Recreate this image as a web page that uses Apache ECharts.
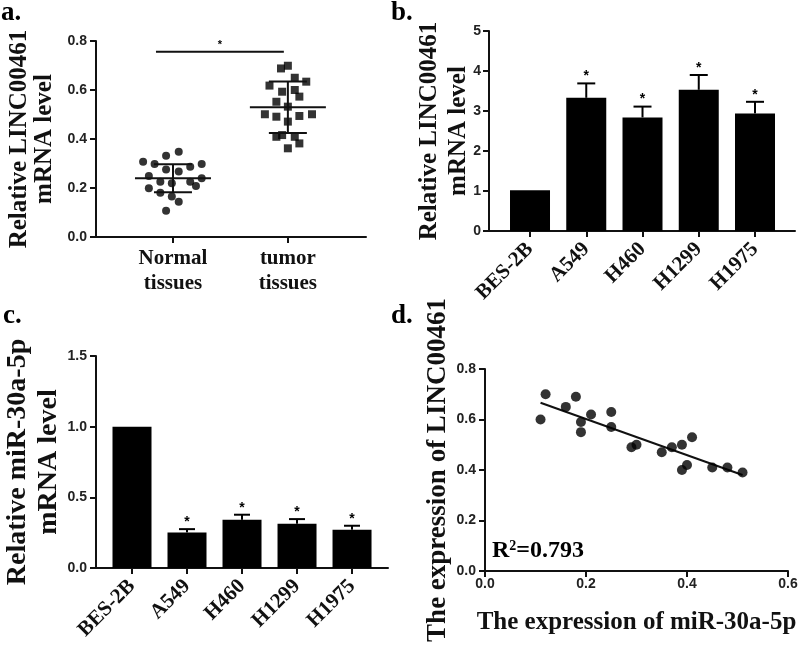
<!DOCTYPE html>
<html><head><meta charset="utf-8">
<script src="https://cdn.jsdelivr.net/npm/echarts@6/dist/echarts.min.js"></script>
<style>html,body{margin:0;padding:0;background:#fff}#c{width:800px;height:653px}</style>
</head><body><div id="c"></div>
<script>
// ---------- Panel a: scatter (x = group position 1 / 2 with jitter, y = level)
const aGroups = ['Normal\ntissues', 'tumor\ntissues'];
const aNormal = [
  [0.74,0.307],[0.84,0.298],[0.94,0.332],[1.05,0.348],[1.15,0.287],[1.25,0.298],
  [0.94,0.276],[1.05,0.267],[0.79,0.249],[0.89,0.226],[0.99,0.219],[1.15,0.226],
  [1.25,0.240],[1.20,0.208],[0.79,0.199],[0.89,0.181],[0.99,0.165],[1.05,0.144],[0.94,0.107]
];
const aTumor = [
  [1.94,0.688],[2.00,0.699],[2.06,0.650],[2.16,0.634],[1.84,0.618],[1.95,0.593],
  [2.06,0.600],[2.10,0.573],[1.90,0.552],[2.00,0.532],[1.80,0.501],[1.90,0.491],
  [2.10,0.494],[2.21,0.501],[2.00,0.471],[1.95,0.416],[1.90,0.409],[2.06,0.409],
  [2.10,0.382],[2.00,0.362]
];
const aMean = [0.240, 0.530];
const aSD = [0.057, 0.105];
const aSigY = 0.756;

// ---------- Panel b / c: bars
const cellLines = ['BES-2B', 'A549', 'H460', 'H1299', 'H1975'];
const bMean = [1.02, 3.33, 2.84, 3.53, 2.94];
const bErr  = [0, 0.36, 0.27, 0.37, 0.29];
const cMean = [1.00, 0.252, 0.341, 0.313, 0.271];
const cErr  = [0, 0.023, 0.036, 0.033, 0.028];
const sig   = [false, true, true, true, true];

// ---------- Panel d: correlation
const dX = [0.11,0.12,0.16,0.18,0.19,0.19,0.21,0.25,0.25,0.29,0.30,0.35,0.37,0.39,0.41,0.39,0.40,0.45,0.48,0.51];
const dY = [0.60,0.70,0.65,0.69,0.59,0.55,0.62,0.63,0.57,0.49,0.50,0.47,0.49,0.50,0.53,0.40,0.42,0.41,0.41,0.39];
const dR2 = '0.793';

// ---------- helpers
const serif = "'Liberation Serif','Times New Roman',serif";
const sans = "'Liberation Sans',Arial,sans-serif";
const INK = '#111';

function yAxis(gi, min, max, interval, dec, name, nameGap, fs, lh, lblMargin) {
  return {
    type: 'value', gridIndex: gi, min, max, interval,
    axisLine: { show: true, onZero: false, lineStyle: { color: INK, width: 2 } },
    axisTick: { show: true, length: 6, lineStyle: { color: INK, width: 2 } },
    splitLine: { show: false },
    axisLabel: { color: '#222', fontFamily: sans, fontWeight: 'bold', fontSize: 14, margin: lblMargin || 9,
      formatter: v => v.toFixed(dec) },
    name, nameLocation: 'middle', nameRotate: 90, nameGap, nameMoveOverlap: false,
    nameTextStyle: { fontFamily: serif, fontWeight: 'bold', fontSize: fs, lineHeight: lh, color: INK }
  };
}
function catXAxis(gi, min, max) {
  const idx = cellLines.map((_, i) => i);
  return {
    type: 'value', gridIndex: gi, min, max,
    axisLine: { show: true, onZero: false, lineStyle: { color: INK, width: 2 } },
    axisTick: { show: true, customValues: idx, length: 6, lineStyle: { color: INK, width: 2 } },
    splitLine: { show: false },
    axisLabel: { customValues: idx, formatter: v => cellLines[Math.round(v)] || '', rotate: 45,
      fontFamily: serif, fontWeight: 'bold', fontSize: 21, color: INK, margin: 15 }
  };
}
function errSeries(ai, means, errs, capHalf, starGap) {
  return {
    type: 'custom', xAxisIndex: ai, yAxisIndex: ai, z: 5, silent: true,
    data: means.map((m, i) => [i, m, errs[i], sig[i] ? 1 : 0]),
    renderItem: (params, api) => {
      const i = api.value(0), m = api.value(1), e = api.value(2);
      const p0 = api.coord([i, m]), p1 = api.coord([i, m + e]);
      const ch = [];
      if (e > 0) {
        ch.push({ type: 'line', shape: { x1: p0[0], y1: p0[1], x2: p1[0], y2: p1[1] }, style: { stroke: '#000', lineWidth: 2 } });
        ch.push({ type: 'line', shape: { x1: p1[0] - capHalf, y1: p1[1], x2: p1[0] + capHalf, y2: p1[1] }, style: { stroke: '#000', lineWidth: 2 } });
      }
      if (api.value(3)) {
        ch.push({ type: 'text', style: { text: '*', x: p1[0], y: p1[1] - starGap, align: 'center', verticalAlign: 'middle',
          textAlign: 'center', textVerticalAlign: 'middle', fontSize: 14, fontWeight: 'bold', fontFamily: sans, fill: '#000' } });
      }
      return { type: 'group', children: ch };
    }
  };
}

// regression for panel d
const n = dX.length;
const mx = dX.reduce((s, v) => s + v, 0) / n, my = dY.reduce((s, v) => s + v, 0) / n;
let sxy = 0, sxx = 0;
for (let i = 0; i < n; i++) { sxy += (dX[i] - mx) * (dY[i] - my); sxx += (dX[i] - mx) ** 2; }
const slope = sxy / sxx, icpt = my - slope * mx;
const xMin = Math.min(...dX), xMax = Math.max(...dX);

const chart = echarts.init(document.getElementById('c'), null, { renderer: 'canvas' });
chart.setOption({
  animation: false,
  backgroundColor: '#fff',
  grid: [
    { left: 96, top: 41, width: 270, height: 196, outerBoundsMode: 'none' },
    { left: 489, top: 31, width: 306, height: 200, outerBoundsMode: 'none' },
    { left: 96, top: 356, width: 292, height: 212, outerBoundsMode: 'none' },
    { left: 485, top: 369, width: 303, height: 202, outerBoundsMode: 'none' }
  ],
  xAxis: [
    { type: 'value', gridIndex: 0, min: 0.33, max: 2.68,
      axisLine: { show: true, onZero: false, lineStyle: { color: INK, width: 2 } },
      axisTick: { show: true, customValues: [1, 2], length: 6, lineStyle: { color: INK, width: 2 } },
      splitLine: { show: false },
      axisLabel: { customValues: [1, 2], formatter: v => aGroups[Math.round(v) - 1] || '',
        fontFamily: serif, fontWeight: 'bold', fontSize: 21, lineHeight: 25, color: INK, margin: 9 } },
    catXAxis(1, -0.729, 4.711),
    catXAxis(2, -0.6545, 4.654),
    { type: 'value', gridIndex: 3, min: 0, max: 0.6, interval: 0.2,
      axisLine: { show: true, onZero: false, lineStyle: { color: INK, width: 2 } },
      axisTick: { show: true, length: 6, lineStyle: { color: INK, width: 2 } },
      splitLine: { show: false },
      axisLabel: { color: '#222', fontFamily: sans, fontWeight: 'bold', fontSize: 14, margin: 6, formatter: v => v.toFixed(1) },
      name: 'The expression of miR-30a-5p', nameLocation: 'middle', nameGap: 39, nameMoveOverlap: false,
      nameTextStyle: { fontFamily: serif, fontWeight: 'bold', fontSize: 25, color: INK } }
  ],
  yAxis: [
    yAxis(0, 0, 0.8, 0.2, 1, 'Relative LINC00461\nmRNA level', 39, 25, 25),
    yAxis(1, 0, 5, 1, 0, 'Relative LINC00461\nmRNA level', 16, 25, 29, 8),
    yAxis(2, 0, 1.5, 0.5, 1, 'Relative miR-30a-5p\nmRNA level', 32, 28, 31),
    yAxis(3, 0, 0.8, 0.2, 1, 'The expression of LINC00461', 33, 27, 27)
  ],
  series: [
    // panel a
    { type: 'scatter', xAxisIndex: 0, yAxisIndex: 0, data: aNormal, symbol: 'circle', symbolSize: 8,
      itemStyle: { color: '#000' }, z: 3 },
    { type: 'scatter', xAxisIndex: 0, yAxisIndex: 0, data: aTumor, symbol: 'rect', symbolSize: 8,
      itemStyle: { color: '#000' }, z: 3 },
    { type: 'custom', xAxisIndex: 0, yAxisIndex: 0, z: 4, silent: true,
      data: aMean.map((m, i) => [i + 1, m, aSD[i]]),
      renderItem: (params, api) => {
        const x = api.value(0), m = api.value(1), s = api.value(2);
        const pm = api.coord([x, m]), pu = api.coord([x, m + s]), pl = api.coord([x, m - s]);
        const st = { stroke: '#111', lineWidth: 2 };
        return { type: 'group', children: [
          { type: 'line', shape: { x1: pm[0] - 38, y1: pm[1], x2: pm[0] + 38, y2: pm[1] }, style: st },
          { type: 'line', shape: { x1: pu[0] - 19, y1: pu[1], x2: pu[0] + 19, y2: pu[1] }, style: st },
          { type: 'line', shape: { x1: pl[0] - 19, y1: pl[1], x2: pl[0] + 19, y2: pl[1] }, style: st },
          { type: 'line', shape: { x1: pu[0], y1: pu[1], x2: pl[0], y2: pl[1] }, style: st }
        ] };
      } },
    { type: 'custom', xAxisIndex: 0, yAxisIndex: 0, z: 4, silent: true,
      data: [[0.852, 1.965, aSigY]],
      renderItem: (params, api) => {
        const p0 = api.coord([api.value(0), api.value(2)]), p1 = api.coord([api.value(1), api.value(2)]);
        return { type: 'group', children: [
          { type: 'line', shape: { x1: p0[0], y1: p0[1], x2: p1[0], y2: p1[1] }, style: { stroke: '#111', lineWidth: 2 } },
          { type: 'text', style: { text: '*', x: (p0[0] + p1[0]) / 2, y: p0[1] - 7, align: 'center', verticalAlign: 'middle',
            textAlign: 'center', textVerticalAlign: 'middle', fontSize: 11, fontWeight: 'bold', fontFamily: sans, fill: '#000' } }
        ] };
      } },
    // panel b
    { type: 'bar', xAxisIndex: 1, yAxisIndex: 1, data: bMean.map((v, i) => [i, v]), barWidth: 40,
      itemStyle: { color: '#000' }, z: 2 },
    errSeries(1, bMean, bErr, 9, 7),
    // panel c
    { type: 'bar', xAxisIndex: 2, yAxisIndex: 2, data: cMean.map((v, i) => [i, v]), barWidth: 39,
      itemStyle: { color: '#000' }, z: 2 },
    errSeries(2, cMean, cErr, 8, 7),
    // panel d
    { type: 'scatter', xAxisIndex: 3, yAxisIndex: 3, data: dX.map((x, i) => [x, dY[i]]), symbolSize: 10,
      itemStyle: { color: '#000' }, z: 3 },
    { type: 'line', xAxisIndex: 3, yAxisIndex: 3, showSymbol: false, silent: true,
      data: [[xMin, icpt + slope * xMin], [xMax, icpt + slope * xMax]],
      lineStyle: { color: '#111', width: 2 }, z: 2 }
  ],
  graphic: [
    { type: 'text', left: 1, top: 0, style: { text: 'a.', font: 'bold 27px ' + serif, fill: '#000' } },
    { type: 'text', left: 391, top: 0, style: { text: 'b.', font: 'bold 27px ' + serif, fill: '#000' } },
    { type: 'text', left: 3, top: 303, style: { text: 'c.', font: 'bold 27px ' + serif, fill: '#000' } },
    { type: 'text', left: 391, top: 303, style: { text: 'd.', font: 'bold 27px ' + serif, fill: '#000' } },
    { type: 'text', left: 492, top: 539, style: {
      text: '{a|R}{b|2}{a|=0.' + dR2.slice(2) + '}',
      rich: { a: { fontFamily: serif, fontWeight: 'bold', fontSize: 24, fill: '#000', color: '#000', verticalAlign: 'bottom' },
              b: { fontFamily: serif, fontWeight: 'bold', fontSize: 14, fill: '#000', color: '#000', verticalAlign: 'top' } } } }
  ]
});
</script></body></html>
